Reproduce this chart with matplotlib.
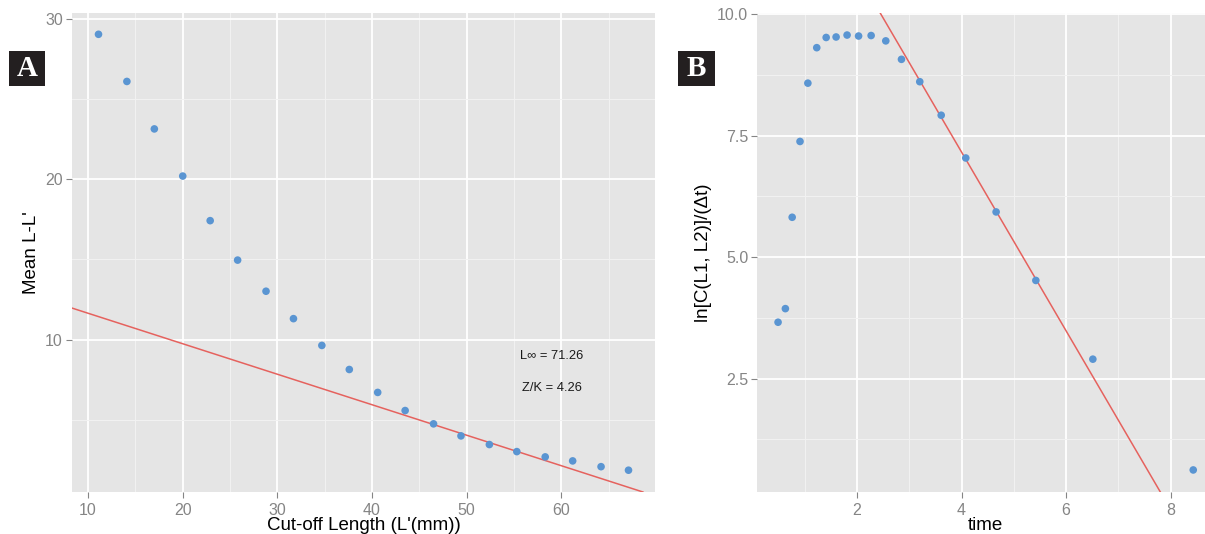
import matplotlib
matplotlib.use("Agg")
import matplotlib.pyplot as plt
from matplotlib.patches import Rectangle
from matplotlib.ticker import FixedLocator

plt.rcParams['font.family'] = ['Liberation Sans', 'DejaVu Sans']

# Panel A: Beverton-Holt plot
cutoff_len = [11.1, 14.1, 17.0, 20.0, 22.9, 25.8, 28.8, 31.7, 34.7, 37.6,
              40.6, 43.5, 46.5, 49.4, 52.4, 55.3, 58.3, 61.2, 64.2, 67.1]
mean_diff = [29.04, 26.10, 23.14, 20.20, 17.42, 14.96, 13.02, 11.31, 9.64, 8.14,
             6.71, 5.58, 4.75, 4.00, 3.46, 3.02, 2.69, 2.44, 2.08, 1.86]
L_inf = 71.26
Z_over_K = 4.26
a_xticks = [10, 20, 30, 40, 50, 60]
a_xminor = [15, 25, 35, 45, 55, 65]
a_yticks = [10, 20, 30]
a_yminor = [5, 15, 25]

# Panel B: length-converted catch curve
time_vals = [0.49, 0.63, 0.76, 0.91, 1.06, 1.23, 1.41, 1.60, 1.81, 2.03,
             2.27, 2.55, 2.85, 3.20, 3.61, 4.08, 4.66, 5.42, 6.51, 8.43]
log_catch = [3.66, 3.94, 5.82, 7.38, 8.58, 9.31, 9.52, 9.53, 9.57, 9.55,
             9.56, 9.45, 9.07, 8.61, 7.92, 7.04, 5.93, 4.52, 2.90, 0.62]
cc_intercept = 14.52
cc_slope = -1.84
b_xticks = [2, 4, 6, 8]
b_xminor = [1, 3, 5, 7]
b_yticks = [2.5, 5.0, 7.5, 10.0]
b_yminor = [1.25, 3.75, 6.25, 8.75]

W, H = 1205, 534
fig = plt.figure(figsize=(W / 100, H / 100), dpi=100)

PANEL_BG = "#E5E5E5"
MINOR = "#F2F2F2"
POINT = "#5A95D2"
LINE = "#E5625E"
TICKC = "#858585"


def px_axes(left, top, right, bottom):
    return fig.add_axes([left / W, 1 - bottom / H, (right - left) / W, (bottom - top) / H])


def expand(vals, frac=0.05):
    lo, hi = min(vals), max(vals)
    r = hi - lo
    return lo - frac * r, hi + frac * r


def style(ax, xt, xm, yt, ym, yfmt=None):
    ax.set_facecolor(PANEL_BG)
    for s in ax.spines.values():
        s.set_visible(False)
    ax.xaxis.set_major_locator(FixedLocator(xt))
    ax.xaxis.set_minor_locator(FixedLocator(xm))
    ax.yaxis.set_major_locator(FixedLocator(yt))
    ax.yaxis.set_minor_locator(FixedLocator(ym))
    if yfmt:
        ax.set_yticklabels([yfmt.format(v) for v in yt])
    ax.grid(which="major", color="white", linewidth=1.3)
    ax.grid(which="minor", color=MINOR, linewidth=0.7)
    ax.set_axisbelow(True)
    ax.tick_params(which="major", length=4, width=0.8, color=TICKC,
                   labelcolor=TICKC, labelsize=11.5)
    ax.tick_params(axis="x", which="major", pad=4)
    ax.tick_params(axis="y", which="major", pad=2.5)
    ax.tick_params(which="minor", length=0)


# ---- Panel A ----
axA = px_axes(72, 12.5, 655, 492)
axA.scatter(cutoff_len, mean_diff, s=30, color=POINT, edgecolors="none", zorder=3)
axA.axline((0, L_inf / (1 + Z_over_K)), slope=-1 / (1 + Z_over_K),
           color=LINE, linewidth=1.1, zorder=2)
axA.set_xlim(*expand(cutoff_len))
axA.set_ylim(*expand(mean_diff))
style(axA, a_xticks, a_xminor, a_yticks, a_yminor)
axA.text(59, 9, "L\u221e = 71.26", ha="center", va="center", fontsize=9.3, color="#1a1a1a")
axA.text(59, 7, "Z/K = 4.26", ha="center", va="center", fontsize=9.3, color="#1a1a1a")
axA.set_xlabel("Cut-off Length (L'(mm))", fontsize=13.5)
axA.xaxis.set_label_coords(0.5, -(529.5 - 492) / 479.5)
axA.xaxis.label.set_va("baseline")
axA.set_ylabel("Mean L-L'", fontsize=13.5)
axA.yaxis.set_label_coords((32 - 72) / 583, 0.5)
axA.yaxis.label.set_va("center")

# ---- Panel B ----
axB = px_axes(757.3, 13.3, 1214, 491.7)
axB.scatter(time_vals, log_catch, s=30, color=POINT, edgecolors="none", zorder=3)
axB.axline((0, cc_intercept), slope=cc_slope, color=LINE, linewidth=1.1, zorder=2)
axB.set_xlim(*expand(time_vals))
axB.set_ylim(*expand(log_catch))
style(axB, b_xticks, b_xminor, b_yticks, b_yminor, yfmt="{:.1f}")
axB.set_xlabel("time", fontsize=13.5)
axB.xaxis.set_label_coords(0.5, -(529.5 - 491.7) / 478.4)
axB.xaxis.label.set_va("baseline")
axB.set_ylabel("ln[C(L1, L2)]/(\u0394t)", fontsize=13.5)
axB.yaxis.set_label_coords((703 - 757.3) / 456.7, 0.5)
axB.yaxis.label.set_va("center")

# ---- Panel letters ----
for label, x0 in (("A", 9), ("B", 678.3)):
    fig.patches.append(Rectangle((x0 / W, 1 - 85.7 / H), 36.5 / W, 34.7 / H,
                                 transform=fig.transFigure, facecolor="#231F20",
                                 edgecolor="none"))
    fig.text((x0 + 18.2) / W, 1 - 68.3 / H, label, ha="center", va="center",
             color="white", fontsize=21, fontweight="bold",
             family=["Liberation Serif", "DejaVu Serif"])

fig.savefig("out.png", dpi=100)
